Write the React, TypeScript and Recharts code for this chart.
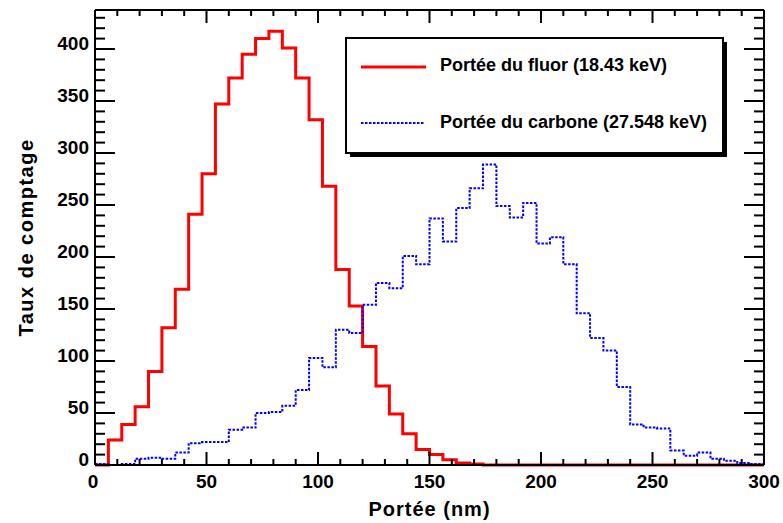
import React from "react";
import { LineChart, Line, XAxis, YAxis, Legend } from "recharts";

// lower edge of each 6 nm bin, the last value closes the final bin
const binEdges = [
  0, 6, 12, 18, 24, 30, 36, 42, 48, 54, 60, 66, 72, 78, 84, 90, 96, 102, 108, 114,
  120, 126, 132, 138, 144, 150, 156, 162, 168, 174, 180, 186, 192, 198, 204, 210,
  216, 222, 228, 234, 240, 246, 252, 258, 264, 270, 276, 282, 288, 294, 300,
];

const fluor = [
  0, 24, 39, 56, 90, 132, 169, 241, 280, 347,
  372, 395, 410, 417, 401, 372, 332, 268, 188, 153,
  114, 76, 49, 30, 15, 10, 5, 2, 1, 0,
  0, 0, 0, 0, 0, 0, 0, 0, 0, 0,
  0, 0, 0, 0, 0, 0, 0, 0, 0, 0,
];

const carbone = [
  1, 0, 1, 6, 7, 6, 12, 21, 22, 22,
  34, 36, 50, 51, 57, 72, 103, 94, 130, 127,
  154, 175, 170, 201, 193, 237, 215, 247, 266, 289,
  249, 238, 252, 213, 219, 193, 146, 122, 110, 75,
  39, 36, 35, 14, 9, 12, 6, 4, 2, 1,
];

const xTicks = [
  0, 10, 20, 30, 40, 50, 60, 70, 80, 90, 100, 110, 120, 130, 140, 150,
  160, 170, 180, 190, 200, 210, 220, 230, 240, 250, 260, 270, 280, 290, 300,
];
const yTicks = [
  0, 10, 20, 30, 40, 50, 60, 70, 80, 90, 100, 110, 120, 130, 140, 150, 160,
  170, 180, 190, 200, 210, 220, 230, 240, 250, 260, 270, 280, 290, 300, 310,
  320, 330, 340, 350, 360, 370, 380, 390, 400, 410, 420, 430,
];

const data = binEdges.map((x, i) => ({
  x,
  fluor: fluor[Math.min(i, fluor.length - 1)],
  carbone: carbone[Math.min(i, carbone.length - 1)],
}));

const FONT = "'Liberation Sans', Arial, Helvetica, sans-serif";
const labelStyle = { fontFamily: FONT, fontWeight: 700, fontSize: 19, fill: "#000" };
const titleStyle = { ...labelStyle, fontSize: 20, letterSpacing: 1 };
const isMajor = (v: number) => v % 50 === 0;

function BottomTick({ x, y, payload }: any) {
  const v = payload.value;
  const major = isMajor(v);
  return (
    <g>
      <line x1={x} y1={y} x2={x} y2={y - (major ? 13 : 6)} stroke="#000" strokeWidth={2} />
      {major && (
        <text x={v === 0 ? x - 2 : x} y={y + 23} textAnchor="middle" style={labelStyle}>
          {v}
        </text>
      )}
    </g>
  );
}

function TopTick({ x, y, payload }: any) {
  const major = isMajor(payload.value);
  return <line x1={x} y1={y} x2={x} y2={y + (major ? 13 : 6)} stroke="#000" strokeWidth={2} />;
}

function LeftTick({ x, y, payload }: any) {
  const v = payload.value;
  const major = isMajor(v);
  return (
    <g>
      <line x1={x} y1={y} x2={x + (major ? 20 : 10)} y2={y} stroke="#000" strokeWidth={2} />
      {major && (
        <text x={x - 6} y={y + 1} textAnchor="end" style={labelStyle}>
          {v}
        </text>
      )}
    </g>
  );
}

function RightTick({ x, y, payload }: any) {
  const major = isMajor(payload.value);
  return <line x1={x} y1={y} x2={x - (major ? 20 : 10)} y2={y} stroke="#000" strokeWidth={2} />;
}

function LegendBox() {
  const text = { fontFamily: FONT, fontWeight: 700, fontSize: 18, fill: "#000" };
  return (
    <svg width={384} height={122} style={{ display: "block" }}>
      <rect x={5} y={5} width={377} height={115} fill="#000" />
      <rect x={1} y={1} width={377} height={115} fill="#fff" stroke="#000" strokeWidth={2} />
      <line x1={16} y1={30} x2={81} y2={30} stroke="#ff0000" strokeWidth={3} />
      <text x={95} y={34} style={text}>Portée du fluor (18.43 keV)</text>
      <line x1={16} y1={86} x2={80} y2={86} stroke="#0000ff" strokeWidth={2} strokeDasharray="2.5 1.5" />
      <text x={95} y={91} style={text}>Portée du carbone (27.548 keV)</text>
    </svg>
  );
}

export default function App() {
  return (
    <div style={{ position: "absolute", left: 0, top: 0, background: "#fff" }}>
      <LineChart
        width={783}
        height={523}
        data={data}
        margin={{ top: 9, right: 18, bottom: 0, left: 0 }}
      >
        <XAxis
          xAxisId="b"
          dataKey="x"
          type="number"
          domain={[0, 300]}
          ticks={xTicks}
          interval={0}
          height={58}
          tickSize={0}
          tickMargin={0}
          tickLine={false}
          axisLine={{ stroke: "#000", strokeWidth: 2 }}
          tick={(p: any) => <BottomTick {...p} />}
          label={({ viewBox }: any) => (
            <text
              x={viewBox.x + viewBox.width / 2}
              y={viewBox.y + 51}
              textAnchor="middle"
              style={titleStyle}
            >
              Portée (nm)
            </text>
          )}
        />
        <XAxis
          xAxisId="t"
          orientation="top"
          dataKey="x"
          type="number"
          domain={[0, 300]}
          ticks={xTicks}
          interval={0}
          height={1}
          tickSize={0}
          tickMargin={0}
          tickLine={false}
          axisLine={{ stroke: "#000", strokeWidth: 2 }}
          tick={(p: any) => <TopTick {...p} />}
        />
        <YAxis
          yAxisId="l"
          type="number"
          domain={[0, 437.5]}
          ticks={yTicks}
          interval={0}
          width={95}
          tickSize={0}
          tickMargin={0}
          tickLine={false}
          axisLine={{ stroke: "#000", strokeWidth: 2 }}
          tick={(p: any) => <LeftTick {...p} />}
          label={({ viewBox }: any) => {
            const cx = viewBox.x + 33;
            const cy = viewBox.y + viewBox.height / 2;
            return (
              <text
                x={cx}
                y={cy}
                textAnchor="middle"
                transform={`rotate(-90, ${cx}, ${cy})`}
                style={{ ...titleStyle, letterSpacing: 1.5 }}
              >
                Taux de comptage
              </text>
            );
          }}
        />
        <YAxis
          yAxisId="r"
          orientation="right"
          type="number"
          domain={[0, 437.5]}
          ticks={yTicks}
          interval={0}
          width={1}
          tickSize={0}
          tickMargin={0}
          tickLine={false}
          axisLine={{ stroke: "#000", strokeWidth: 2 }}
          tick={(p: any) => <RightTick {...p} />}
        />
        <Legend
          layout="horizontal"
          verticalAlign="middle"
          align="center"
          content={() => <LegendBox />}
          wrapperStyle={{ left: 345, top: 37, width: 384, height: 122 }}
        />
        <Line
          xAxisId="b"
          yAxisId="l"
          type="stepAfter"
          dataKey="fluor"
          stroke="#ff0000"
          strokeWidth={3}
          dot={false}
          activeDot={false}
          isAnimationActive={false}
        />
        <Line
          xAxisId="t"
          yAxisId="r"
          type="stepAfter"
          dataKey="carbone"
          stroke="#0000ff"
          strokeWidth={2}
          strokeDasharray="2.5 1.5"
          dot={false}
          activeDot={false}
          isAnimationActive={false}
        />
      </LineChart>
    </div>
  );
}
